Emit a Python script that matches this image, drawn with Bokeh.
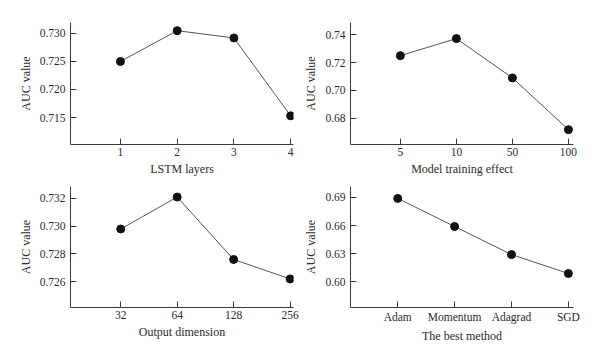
from bokeh.plotting import figure
from bokeh.layouts import gridplot
from bokeh.models import Range1d, FixedTicker
from bokeh.embed import file_html
from bokeh.resources import INLINE

# ---- data ----
lstm_layers = ["1", "2", "3", "4"]
lstm_auc = [0.7250, 0.7305, 0.7292, 0.7153]
lstm_yticks = [0.715, 0.720, 0.725, 0.730]

train_effect = ["5", "10", "50", "100"]
train_auc = [0.7249, 0.7371, 0.7090, 0.6720]
train_yticks = [0.68, 0.70, 0.72, 0.74]

out_dim = ["32", "64", "128", "256"]
out_auc = [0.7298, 0.7321, 0.7276, 0.7262]
out_yticks = [0.726, 0.728, 0.730, 0.732]

methods = ["Adam", "Momentum", "Adagrad", "SGD"]
method_auc = [0.6890, 0.6590, 0.6290, 0.6088]
method_yticks = [0.60, 0.63, 0.66, 0.69]

FONT = "Liberation Serif"
TXT = "#2a2a2a"
AX = "#3a3a3a"


def panel(cats, vals, yticks, ydec, xlabel, yr, xr, borders):
    left, right, top, bottom = borders
    p = figure(width=300, height=181, output_backend="svg", toolbar_location=None,
               x_range=Range1d(*xr), y_range=Range1d(*yr),
               min_border_left=left, min_border_right=right,
               min_border_top=top, min_border_bottom=bottom)
    p.outline_line_color = None
    p.grid.visible = False
    p.background_fill_color = "white"
    xs = list(range(len(cats)))
    p.line(xs, vals, line_color="#555555", line_width=1)
    p.scatter(xs, vals, size=8, fill_color="#111111", line_color="#111111")

    xa = p.xaxis[0]
    xa.ticker = FixedTicker(ticks=xs)
    xa.major_label_overrides = {i: c for i, c in enumerate(cats)}
    xa.axis_label = xlabel
    ya = p.yaxis[0]
    ya.ticker = FixedTicker(ticks=yticks)
    ya.major_label_overrides = {t: f"{t:.{ydec}f}" for t in yticks}
    ya.axis_label = "AUC value"
    for ax in (xa, ya):
        ax.minor_tick_line_color = None
        ax.major_tick_in = 6
        ax.major_tick_out = 0
        ax.major_tick_line_color = AX
        ax.axis_line_color = AX
        ax.axis_line_width = 1
        ax.major_label_text_font = FONT
        ax.major_label_text_font_size = "11.5px"
        ax.major_label_text_color = TXT
        ax.axis_label_text_font = FONT
        ax.axis_label_text_font_size = "12px"
        ax.axis_label_text_font_style = "normal"
        ax.axis_label_text_color = TXT
    xa.major_label_standoff = 3
    xa.axis_label_standoff = 3
    ya.major_label_standoff = 5
    ya.axis_label_standoff = 4
    return p


p1 = panel(lstm_layers, lstm_auc, lstm_yticks, 3, "LSTM layers",
           (0.71018, 0.73196), (-0.88, 3.05), (70, 7, 22, 37))
p2 = panel(train_effect, train_auc, train_yticks, 2, "Model training effect",
           (0.6614, 0.7486), (-0.89, 3.09), (50, 26, 22, 37))
p3 = panel(out_dim, out_auc, out_yticks, 3, "Output dimension",
           (0.72414, 0.73286), (-0.89, 3.06), (70, 7, 5, 54))
p4 = panel(methods, method_auc, method_yticks, 2, "The best method",
           (0.5725, 0.7017), (-0.83, 3.09), (49, 27, 4, 55))

grid = gridplot([[p1, p2], [p3, p4]], toolbar_location=None)

open("out.html", "w").write(file_html(grid, INLINE))
